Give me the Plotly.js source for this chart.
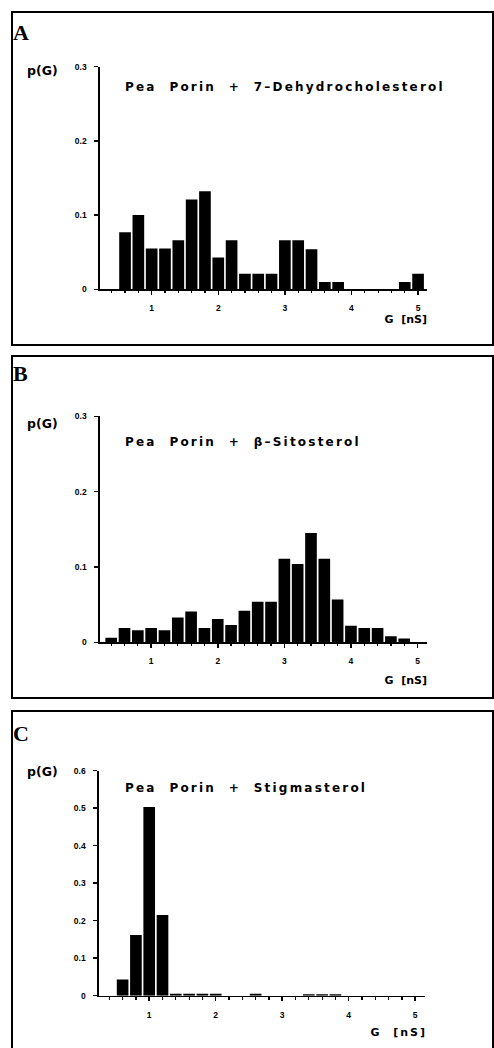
<!DOCTYPE html>
<html>
<head>
<meta charset="utf-8">
<script src="https://cdn.plot.ly/plotly-3.0.1.min.js"></script>
<style>
html,body{margin:0;padding:0;background:#fff;}
#wrap{position:relative;width:494px;height:1048px;overflow:hidden;}
#chart{position:absolute;left:0;top:0;width:494px;height:1048px;}
.frame{position:absolute;border:2px solid #000;box-sizing:border-box;pointer-events:none;}
.lbl{position:absolute;white-space:nowrap;line-height:1;color:#000;font-weight:bold;transform:translateY(-50%);pointer-events:none;}
.letter{font-family:"Liberation Serif","Times New Roman",serif;font-size:22px;}
.pg{font-family:"DejaVu Sans",sans-serif;font-size:12.5px;}
.ttl{font-family:"DejaVu Sans",sans-serif;font-size:12px;letter-spacing:2.2px;}
.gl{font-family:"DejaVu Sans",sans-serif;font-size:11px;}
</style>
</head>
<body>
<div id="wrap">
<div id="chart"></div>
<div class="frame" style="left:11px;top:11px;width:483px;height:335px;"></div>
<div class="frame" style="left:11px;top:355px;width:483px;height:344px;"></div>
<div class="frame" style="left:11px;top:710px;width:483px;height:360px;"></div>
</div>
<script>
// ---- Data ----
// Panel A: Pea Porin + 7-Dehydrocholesterol
var gA = [0.6, 0.8, 1.0, 1.2, 1.4, 1.6, 1.8, 2.0, 2.2, 2.4, 2.6, 2.8, 3.0, 3.2, 3.4, 3.6, 3.8, 4.8, 5.0];
var pA = [0.077, 0.100, 0.055, 0.055, 0.066, 0.121, 0.132, 0.043, 0.066, 0.021, 0.021, 0.021, 0.066, 0.066, 0.054, 0.010, 0.010, 0.010, 0.021];
// Panel B: Pea Porin + beta-Sitosterol
var gB = [0.4, 0.6, 0.8, 1.0, 1.2, 1.4, 1.6, 1.8, 2.0, 2.2, 2.4, 2.6, 2.8, 3.0, 3.2, 3.4, 3.6, 3.8, 4.0, 4.2, 4.4, 4.6, 4.8];
var pB = [0.006, 0.019, 0.016, 0.019, 0.016, 0.033, 0.041, 0.019, 0.031, 0.023, 0.042, 0.054, 0.054, 0.111, 0.104, 0.145, 0.111, 0.057, 0.022, 0.019, 0.019, 0.008, 0.005];
// Panel C: Pea Porin + Stigmasterol
var gC = [0.6, 0.8, 1.0, 1.2, 1.4, 1.6, 1.8, 2.0, 2.6, 3.4, 3.6, 3.8];
var pC = [0.043, 0.162, 0.503, 0.215, 0.005, 0.005, 0.005, 0.005, 0.005, 0.004, 0.004, 0.004];

var panelLetters = ["A", "B", "C"];
var panelTitles = [
  "Pea\u00a0 Porin\u00a0 +\u00a0 7\u2013Dehydrocholesterol",
  "Pea\u00a0 Porin\u00a0 +\u00a0 \u03b2\u2013Sitosterol",
  "Pea\u00a0 Porin\u00a0 +\u00a0 Stigmasterol"
];
var yLabel = "p(G)";
var xLabel = "G\u00a0 [nS]";
var xTicks = [1, 2, 3, 4, 5];
var xTickText = ["1", "2", "3", "4", "5"];

var W = 494, H = 1048;
function px(x){ return x / W; }
function py(y){ return 1 - y / H; }

var tickFont = {family: "Liberation Sans, Arial, sans-serif", size: 8.5, color: "#000", weight: "bold"};

function xax(domain, range, anchor){
  return {domain: domain, range: range, anchor: anchor,
    showline: true, linecolor: "#000", linewidth: 1.6, showgrid: false, zeroline: false,
    tickmode: "array", tickvals: xTicks, ticktext: xTickText,
    ticks: "outside", ticklen: 4, tickwidth: 1.5, tickcolor: "#000",
    minor: {dtick: 0.2, tick0: 0, ticks: "outside", ticklen: 2.5, tickwidth: 1.2, tickcolor: "#000", showgrid: false},
    tickfont: tickFont, ticklabelstandoff: 6};
}
function yax(domain, range, anchor){
  return {domain: domain, range: range, anchor: anchor,
    showline: true, linecolor: "#000", linewidth: 1.6, showgrid: false, zeroline: false,
    dtick: 0.1, tick0: 0, ticks: "outside", ticklen: 4, tickwidth: 1.5, tickcolor: "#000",
    tickfont: tickFont, ticklabelstandoff: 6};
}

var barStyle = {color: "#000", line: {width: 0}};
var traces = [
  {type: "bar", x: gA, y: pA, width: 0.175, marker: barStyle, xaxis: "x", yaxis: "y"},
  {type: "bar", x: gB, y: pB, width: 0.175, marker: barStyle, xaxis: "x2", yaxis: "y2"},
  {type: "bar", x: gC, y: pC, width: 0.175, marker: barStyle, xaxis: "x3", yaxis: "y3"}
];

var panels = [
  {x0: 100, x1: 427, xr: [0.224, 5.134], yZero: 289.3, yTop: 66.7, yr: [0, 0.3],
   letterY: 33, pgY: 71, titleY: 86.5, gY: 319, gR: 427, gSp: 0},
  {x0: 100, x1: 427, xr: [0.232, 5.142], yZero: 642.3, yTop: 416.4, yr: [0, 0.3],
   letterY: 374, pgY: 424, titleY: 442, gY: 680, gR: 427, gSp: 0},
  {x0: 99, x1: 425, xr: [0.245, 5.147], yZero: 995.7, yTop: 770.7, yr: [0, 0.6],
   letterY: 734, pgY: 772, titleY: 788, gY: 1032, gR: 425, gSp: 2}
];

var layout = {
  width: W, height: H,
  margin: {l: 0, r: 0, t: 0, b: 0},
  showlegend: false
};

var wrap = document.getElementById("wrap");
function addLabel(cls, text, left, right, cy, extraStyle){
  var d = document.createElement("div");
  d.className = "lbl " + cls;
  d.textContent = text;
  if (left !== null) d.style.left = left + "px";
  if (right !== null) d.style.right = right + "px";
  d.style.top = cy + "px";
  if (extraStyle) { for (var k in extraStyle) d.style[k] = extraStyle[k]; }
  wrap.appendChild(d);
}

var suf = ["", "2", "3"];
panels.forEach(function(p, i){
  layout["xaxis" + suf[i]] = xax([px(p.x0), px(p.x1)], p.xr, "y" + suf[i]);
  layout["yaxis" + suf[i]] = yax([py(p.yZero), py(p.yTop)], p.yr, "x" + suf[i]);
  addLabel("letter", panelLetters[i], 13, null, p.letterY);
  addLabel("pg", yLabel, 27, null, p.pgY);
  addLabel("ttl", panelTitles[i], 125, null, p.titleY);
  addLabel("gl", xLabel, null, W - p.gR - p.gSp, p.gY, {letterSpacing: p.gSp + "px"});
});

Plotly.newPlot("chart", traces, layout, {staticPlot: true});
</script>
</body>
</html>
